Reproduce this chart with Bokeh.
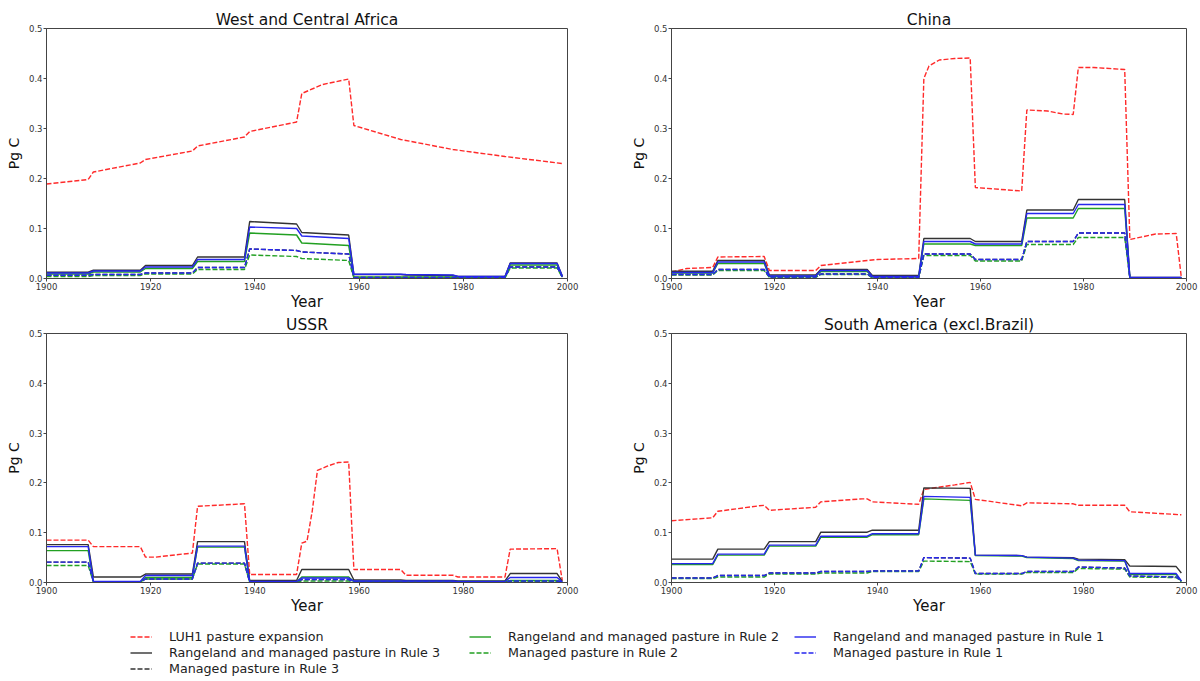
from bokeh.plotting import figure
from bokeh.models import Range1d, FixedTicker, PrintfTickFormatter, Legend, LegendItem
from bokeh.layouts import column, row
from bokeh.embed import file_html
from bokeh.resources import INLINE

# ---------------- data ----------------
step_years = [1900, 1908, 1909, 1918, 1919, 1928, 1929, 1938, 1939, 1948, 1949,
              1958, 1959, 1968, 1969, 1978, 1979, 1988, 1989, 1998, 1999]

# West and Central Africa
afr_luh_years = [1900, 1908, 1909, 1918, 1919, 1928, 1929, 1938, 1939, 1948, 1949,
                 1953, 1958, 1959, 1968, 1978, 1988, 1999]
afr_luh = [0.189, 0.198, 0.213, 0.231, 0.238, 0.255, 0.265, 0.283, 0.294, 0.313, 0.370,
           0.388, 0.399, 0.306, 0.278, 0.258, 0.244, 0.230]
afr_r3 = [0.0125, 0.0125, 0.0165, 0.0165, 0.026, 0.026, 0.043, 0.043, 0.114, 0.109, 0.092,
          0.087, 0.008, 0.008, 0.007, 0.006, 0.004, 0.004, 0.031, 0.031, 0.005]
afr_m3 = [0.0065, 0.0065, 0.008, 0.008, 0.011, 0.011, 0.022, 0.022, 0.059, 0.056, 0.053,
          0.049, 0.002, 0.002, 0.002, 0.002, 0.002, 0.002, 0.023, 0.023, 0.003]
afr_r2 = [0.009, 0.009, 0.013, 0.013, 0.020, 0.020, 0.034, 0.034, 0.091, 0.087, 0.071,
          0.066, 0.003, 0.003, 0.003, 0.003, 0.002, 0.002, 0.027, 0.027, 0.004]
afr_m2 = [0.004, 0.004, 0.006, 0.006, 0.009, 0.009, 0.018, 0.018, 0.047, 0.044, 0.040,
          0.036, 0.001, 0.001, 0.001, 0.001, 0.001, 0.001, 0.021, 0.021, 0.002]
afr_r1 = [0.011, 0.011, 0.015, 0.015, 0.023, 0.023, 0.038, 0.038, 0.103, 0.100, 0.085,
          0.080, 0.0085, 0.0085, 0.008, 0.007, 0.004, 0.004, 0.030, 0.030, 0.005]
afr_m1 = [0.0065, 0.0065, 0.008, 0.008, 0.011, 0.011, 0.022, 0.022, 0.059, 0.056, 0.053,
          0.049, 0.002, 0.002, 0.002, 0.002, 0.002, 0.002, 0.023, 0.023, 0.003]

# China
chn_luh_years = [1900, 1903, 1908, 1909, 1918, 1919, 1928, 1929, 1938, 1940, 1948, 1949,
                 1950, 1952, 1955, 1958, 1959, 1968, 1969, 1973, 1976, 1978, 1979, 1982,
                 1988, 1989, 1994, 1998, 1999]
chn_luh = [0.013, 0.020, 0.022, 0.043, 0.044, 0.016, 0.016, 0.026, 0.036, 0.038, 0.040, 0.400,
           0.425, 0.437, 0.440, 0.441, 0.182, 0.175, 0.337, 0.335, 0.329, 0.328, 0.422, 0.422,
           0.418, 0.078, 0.089, 0.090, 0.002]
chn_r3 = [0.0145, 0.0145, 0.036, 0.036, 0.007, 0.007, 0.018, 0.018, 0.006, 0.006, 0.080,
          0.080, 0.074, 0.074, 0.137, 0.137, 0.158, 0.158, 0.002, 0.002, 0.002]
chn_m3 = [0.008, 0.008, 0.018, 0.018, 0.003, 0.003, 0.009, 0.009, 0.002, 0.002, 0.049,
          0.049, 0.038, 0.038, 0.074, 0.074, 0.091, 0.091, 0.001, 0.001, 0.001]
chn_r2 = [0.011, 0.011, 0.030, 0.030, 0.004, 0.004, 0.014, 0.014, 0.003, 0.003, 0.069,
          0.069, 0.066, 0.066, 0.121, 0.121, 0.140, 0.140, 0.001, 0.001, 0.001]
chn_m2 = [0.007, 0.007, 0.016, 0.016, 0.002, 0.002, 0.008, 0.008, 0.001, 0.001, 0.046,
          0.046, 0.035, 0.035, 0.068, 0.068, 0.082, 0.082, 0.001, 0.001, 0.001]
chn_r1 = [0.012, 0.012, 0.033, 0.033, 0.005, 0.005, 0.016, 0.016, 0.004, 0.004, 0.074,
          0.074, 0.069, 0.069, 0.130, 0.130, 0.148, 0.148, 0.002, 0.002, 0.002]
chn_m1 = [0.008, 0.008, 0.018, 0.018, 0.003, 0.003, 0.009, 0.009, 0.002, 0.002, 0.049,
          0.049, 0.038, 0.038, 0.074, 0.074, 0.091, 0.091, 0.001, 0.001, 0.001]

# USSR
ussr_luh_years = [1900, 1908, 1909, 1918, 1919, 1921, 1926, 1928, 1929, 1938, 1939, 1948,
                  1949, 1950, 1951, 1952, 1954, 1956, 1958, 1959, 1968, 1969, 1978, 1979,
                  1988, 1989, 1998, 1999]
ussr_luh = [0.085, 0.085, 0.072, 0.072, 0.051, 0.051, 0.057, 0.059, 0.153, 0.158, 0.016, 0.016,
            0.079, 0.083, 0.143, 0.225, 0.234, 0.241, 0.242, 0.026, 0.026, 0.0145, 0.0145, 0.011,
            0.011, 0.067, 0.068, 0.004]
ussr_r3 = [0.076, 0.076, 0.011, 0.011, 0.017, 0.017, 0.082, 0.082, 0.004, 0.004, 0.026,
           0.026, 0.005, 0.005, 0.004, 0.004, 0.003, 0.003, 0.018, 0.018, 0.002]
ussr_m3 = [0.041, 0.041, 0.001, 0.001, 0.007, 0.007, 0.039, 0.039, 0.001, 0.001, 0.006,
           0.006, 0.001, 0.001, 0.001, 0.001, 0.001, 0.001, 0.003, 0.003, 0.001]
ussr_r2 = [0.064, 0.064, 0.001, 0.001, 0.010, 0.010, 0.071, 0.071, 0.001, 0.001, 0.011,
           0.011, 0.002, 0.002, 0.002, 0.002, 0.002, 0.002, 0.004, 0.004, 0.001]
ussr_m2 = [0.034, 0.034, 0.001, 0.001, 0.007, 0.007, 0.037, 0.037, 0.001, 0.001, 0.003,
           0.003, 0.001, 0.001, 0.001, 0.001, 0.001, 0.001, 0.002, 0.002, 0.001]
ussr_r1 = [0.072, 0.072, 0.002, 0.002, 0.014, 0.014, 0.073, 0.073, 0.002, 0.002, 0.009,
           0.009, 0.003, 0.003, 0.003, 0.003, 0.002, 0.002, 0.010, 0.010, 0.001]
ussr_m1 = [0.041, 0.041, 0.001, 0.001, 0.007, 0.007, 0.039, 0.039, 0.001, 0.001, 0.006,
           0.006, 0.001, 0.001, 0.001, 0.001, 0.001, 0.001, 0.003, 0.003, 0.001]

# South America (excl. Brazil)
sam_luh_years = [1900, 1908, 1909, 1917, 1918, 1919, 1928, 1929, 1937, 1938, 1939, 1948,
                 1949, 1955, 1958, 1959, 1968, 1969, 1978, 1979, 1988, 1989, 1999]
sam_luh = [0.124, 0.130, 0.143, 0.154, 0.155, 0.145, 0.151, 0.162, 0.168, 0.168, 0.162, 0.157,
           0.187, 0.196, 0.201, 0.167, 0.154, 0.160, 0.158, 0.155, 0.155, 0.142, 0.136]
sam_r3 = [0.047, 0.047, 0.067, 0.067, 0.082, 0.082, 0.101, 0.101, 0.105, 0.105, 0.190,
          0.189, 0.055, 0.054, 0.051, 0.050, 0.047, 0.046, 0.033, 0.032, 0.019]
sam_m3 = [0.009, 0.009, 0.014, 0.014, 0.019, 0.019, 0.022, 0.022, 0.023, 0.023, 0.050,
          0.049, 0.018, 0.018, 0.022, 0.022, 0.031, 0.029, 0.013, 0.011, 0.003]
sam_r2 = [0.036, 0.036, 0.055, 0.055, 0.073, 0.073, 0.091, 0.091, 0.096, 0.096, 0.168,
          0.165, 0.054, 0.053, 0.050, 0.048, 0.044, 0.043, 0.016, 0.016, 0.002]
sam_m2 = [0.008, 0.008, 0.011, 0.011, 0.017, 0.017, 0.019, 0.019, 0.022, 0.022, 0.043,
          0.042, 0.017, 0.017, 0.020, 0.020, 0.028, 0.027, 0.011, 0.010, 0.002]
sam_r1 = [0.038, 0.038, 0.057, 0.057, 0.075, 0.075, 0.093, 0.093, 0.098, 0.098, 0.173,
          0.171, 0.055, 0.054, 0.051, 0.049, 0.045, 0.044, 0.018, 0.018, 0.003]
sam_m1 = [0.009, 0.009, 0.014, 0.014, 0.019, 0.019, 0.022, 0.022, 0.023, 0.023, 0.050,
          0.049, 0.018, 0.018, 0.022, 0.022, 0.031, 0.029, 0.013, 0.011, 0.003]

x_ticks = [1900, 1920, 1940, 1960, 1980, 2000]
y_ticks = [0.0, 0.1, 0.2, 0.3, 0.4, 0.5]

labels = ["LUH1 pasture expansion",
          "Rangeland and managed pasture in Rule 3",
          "Managed pasture in Rule 3",
          "Rangeland and managed pasture in Rule 2",
          "Managed pasture in Rule 2",
          "Rangeland and managed pasture in Rule 1",
          "Managed pasture in Rule 1"]

# ---------------- styles ----------------
FONT = "DejaVu Sans"
RED = "#ff2a2a"
BLACK = "#333333"
GREEN = "#22a022"
BLUE = "#2626ee"
DASH = "5 2"
LW = 1.4
styles = [(RED, DASH), (BLACK, "solid"), (BLACK, DASH), (GREEN, "solid"), (GREEN, DASH),
          (BLUE, "solid"), (BLUE, DASH)]

PLOT_H = 253


def make_fig(title, width, left, right, top, bottom, luh_years, series):
    p = figure(width=width, height=top + PLOT_H + bottom,
               x_range=Range1d(1900, 2000), y_range=Range1d(0, 0.5),
               toolbar_location=None, output_backend="svg",
               min_border_left=left, min_border_right=right,
               min_border_top=top, min_border_bottom=bottom)
    p.title.text = title
    p.title.align = "center"
    p.title.text_font = FONT
    p.title.text_font_size = "15.5px"
    p.title.text_font_style = "normal"
    p.title.text_color = "#111111"
    p.title.standoff = 0
    p.title.offset = 0
    p.xgrid.visible = False
    p.ygrid.visible = False
    p.outline_line_color = "#444444"
    p.outline_line_width = 1
    p.outline_line_alpha = 1
    for ax in (p.xaxis, p.yaxis):
        ax.axis_line_color = "#444444"
        ax.major_tick_line_color = "#444444"
        ax.major_tick_out = 3
        ax.major_tick_in = 0
        ax.minor_tick_line_color = None
        ax.major_label_text_font = FONT
        ax.major_label_text_font_size = "8.5px"
        ax.major_label_text_color = "#333333"
        ax.major_label_standoff = 1
        ax.axis_label_text_font = FONT
        ax.axis_label_text_font_style = "normal"
        ax.axis_label_text_color = "#111111"
    p.xaxis.ticker = FixedTicker(ticks=x_ticks)
    p.yaxis.ticker = FixedTicker(ticks=y_ticks)
    p.yaxis.formatter = PrintfTickFormatter(format="%.1f")
    p.xaxis.axis_label = "Year"
    p.xaxis.axis_label_text_font_size = "15px"
    p.xaxis.axis_label_standoff = 0
    p.yaxis.axis_label = "Pg C"
    p.yaxis.axis_label_text_font_size = "14px"
    p.yaxis.axis_label_standoff = 4

    for i, (ys, (col, dash)) in enumerate(zip(series, styles)):
        xs = luh_years if i == 0 else step_years
        p.line(xs, ys, line_color=col, line_dash=dash, line_width=LW)
    return p


f1 = make_fig("West and Central Africa", 625, 46, 58, 28, 32, afr_luh_years,
              [afr_luh, afr_r3, afr_m3, afr_r2, afr_m2, afr_r1, afr_m1])
f2 = make_fig("China", 573, 46, 12, 28, 32, chn_luh_years,
              [chn_luh, chn_r3, chn_m3, chn_r2, chn_m2, chn_r1, chn_m1])
f3 = make_fig("USSR", 625, 46, 58, 19, 32, ussr_luh_years,
              [ussr_luh, ussr_r3, ussr_m3, ussr_r2, ussr_m2, ussr_r1, ussr_m1])
f4 = make_fig("South America (excl.Brazil)", 573, 46, 12, 19, 32, sam_luh_years,
              [sam_luh, sam_r3, sam_m3, sam_r2, sam_m2, sam_r1, sam_m1])

# ---------------- legend strip ----------------
# The legend strip's x range is far from the years, so its line renderers only serve
# the legend entries (their data lie outside its frame).
leg = figure(width=1198, height=62, x_range=Range1d(0, 1), y_range=Range1d(0, 1),
             toolbar_location=None, output_backend="svg",
             x_axis_location=None, y_axis_location=None,
             min_border=0, min_border_left=0, min_border_right=0,
             min_border_top=0, min_border_bottom=0)
leg.xgrid.visible = False
leg.ygrid.visible = False
leg.outline_line_color = None

legend_series = [afr_luh, afr_r3, afr_m3, afr_r2, afr_m2, afr_r1, afr_m1]
dummies = []
for i, (col, dash) in enumerate(styles):
    xs = afr_luh_years if i == 0 else step_years
    dummies.append(leg.line(xs, legend_series[i], line_color=col, line_dash=dash,
                            line_width=LW))

groups = [([0, 1, 2], (130, 3)), ([3, 4], (469, 19)), ([5, 6], (794, 19))]
for idx, loc in groups:
    lg = Legend(items=[LegendItem(label=labels[i], renderers=[dummies[i]]) for i in idx],
                location=loc, orientation="vertical")
    lg.border_line_color = None
    lg.background_fill_alpha = 0
    lg.padding = 0
    lg.margin = 0
    lg.spacing = 1
    lg.glyph_width = 22
    lg.glyph_height = 15
    lg.label_height = 15
    lg.label_standoff = 17
    lg.label_text_font = FONT
    lg.label_text_font_size = "12.7px"
    lg.label_text_color = "#222222"
    leg.add_layout(lg)

layout = column(row(f1, f2), row(f3, f4), leg)

with open("out.html", "w") as fh:
    fh.write(file_html(layout, INLINE))
